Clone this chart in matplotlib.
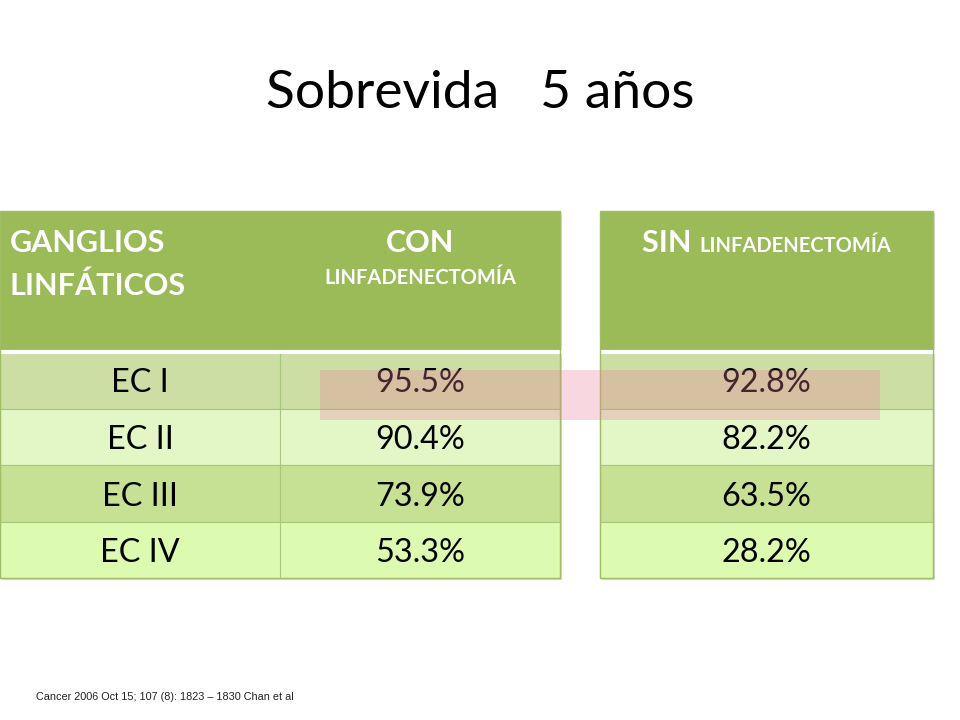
import matplotlib
matplotlib.use("Agg")
import matplotlib.pyplot as plt
from matplotlib.patches import Rectangle

# data
stages = ["EC I", "EC II", "EC III", "EC IV"]
con_linf = ["95.5%", "90.4%", "73.9%", "53.3%"]
sin_linf = ["92.8%", "82.2%", "63.5%", "28.2%"]
title = "Sobrevida   5 años"
source = "Cancer 2006 Oct 15; 107 (8): 1823 \u2013 1830 Chan et al"

FONT = "Lato"
header_col = "#9BBB59"
row_cols = ["#CCDEA4", "#E3F6C6", "#C6E094", "#DCFBB0"]
line_col = "#A9C77A"

# layout (pixel coordinates, y downwards)
top, head_h, row_h = 211, 141, 56.6
left_x = [0, 280, 560]
right_x = [600, 933]

fig = plt.figure(figsize=(9.6, 7.2), dpi=100)
ax = fig.add_axes([0, 0, 1, 1])
ax.set_xlim(0, 960)
ax.set_ylim(720, 0)
ax.axis("off")

bottom = top + head_h + row_h * len(stages)


def table_box(x0, x1):
    # drop shadow
    ax.add_patch(Rectangle((x0 + 2, top + 2), x1 - x0, bottom - top,
                           facecolor="#999999", alpha=0.35, lw=0, zorder=0))
    ax.add_patch(Rectangle((x0, top), x1 - x0, head_h,
                           facecolor=header_col, lw=0, zorder=1))
    for i in range(len(stages)):
        y = top + head_h + i * row_h
        ax.add_patch(Rectangle((x0, y), x1 - x0, row_h,
                               facecolor=row_cols[i], edgecolor=line_col,
                               lw=0.8, zorder=1))
    ax.plot([x0, x1], [top + head_h, top + head_h], color="white", lw=3,
            zorder=2)
    ax.add_patch(Rectangle((x0, top), x1 - x0, bottom - top, fill=False,
                           edgecolor="#9FBE66", lw=1, zorder=3))


table_box(left_x[0], left_x[2])
table_box(right_x[0], right_x[1])
# inner divider of left table
ax.plot([left_x[1], left_x[1]], [top + head_h + 2, bottom], color=line_col,
        lw=0.8, zorder=2)

cell = dict(family=FONT, fontsize=23.3, ha="center", va="center_baseline",
            color="black", zorder=4)
for i, (st, c, s) in enumerate(zip(stages, con_linf, sin_linf)):
    yc = top + head_h + (i + 0.5) * row_h
    ax.text((left_x[0] + left_x[1]) / 2, yc, st, **cell)
    ax.text((left_x[1] + left_x[2]) / 2, yc, c, **cell)
    ax.text((right_x[0] + right_x[1]) / 2, yc, s, **cell)

# highlight band across first row (drawn over the text)
ax.add_patch(Rectangle((320, 370), 560, 50, facecolor="#EB7D9E", alpha=0.3,
                       lw=0, zorder=5))

hdr = dict(family=FONT, color="white", fontweight="bold", zorder=5)
ax.text(10, 252, "GANGLIOS", fontsize=22, ha="left", va="baseline", **hdr)
ax.text(10, 295, "LINFÁTICOS", fontsize=22, ha="left", va="baseline", **hdr)
ax.text(420, 252, "CON", fontsize=22, ha="center", va="baseline", **hdr)
ax.text(420, 284, "LINFADENECTOMÍA", fontsize=14.5, ha="center",
        va="baseline", **hdr)

# "SIN" + smaller suffix, centred together
t1 = ax.text(0, 252, "SIN ", fontsize=22, ha="left", va="baseline", **hdr)
t2 = ax.text(0, 252, "LINFADENECTOMÍA", fontsize=14.5, ha="left",
             va="baseline", **hdr)
fig.canvas.draw()
r = fig.canvas.get_renderer()
inv = ax.transData.inverted()
w1 = inv.transform(t1.get_window_extent(r))[:, 0]
w2 = inv.transform(t2.get_window_extent(r))[:, 0]
w1, w2 = w1[1] - w1[0], w2[1] - w2[0]
start = (right_x[0] + right_x[1]) / 2 - (w1 + w2) / 2
t1.set_x(start)
t2.set_x(start + w1)

ax.text(480, 108, title, family=FONT, fontsize=38.4, ha="center",
        va="baseline")
ax.text(36, 700, source, family="Liberation Sans", fontsize=7.8,
        color="#222222", ha="left", va="baseline")

fig.savefig("out.png", dpi=100)
